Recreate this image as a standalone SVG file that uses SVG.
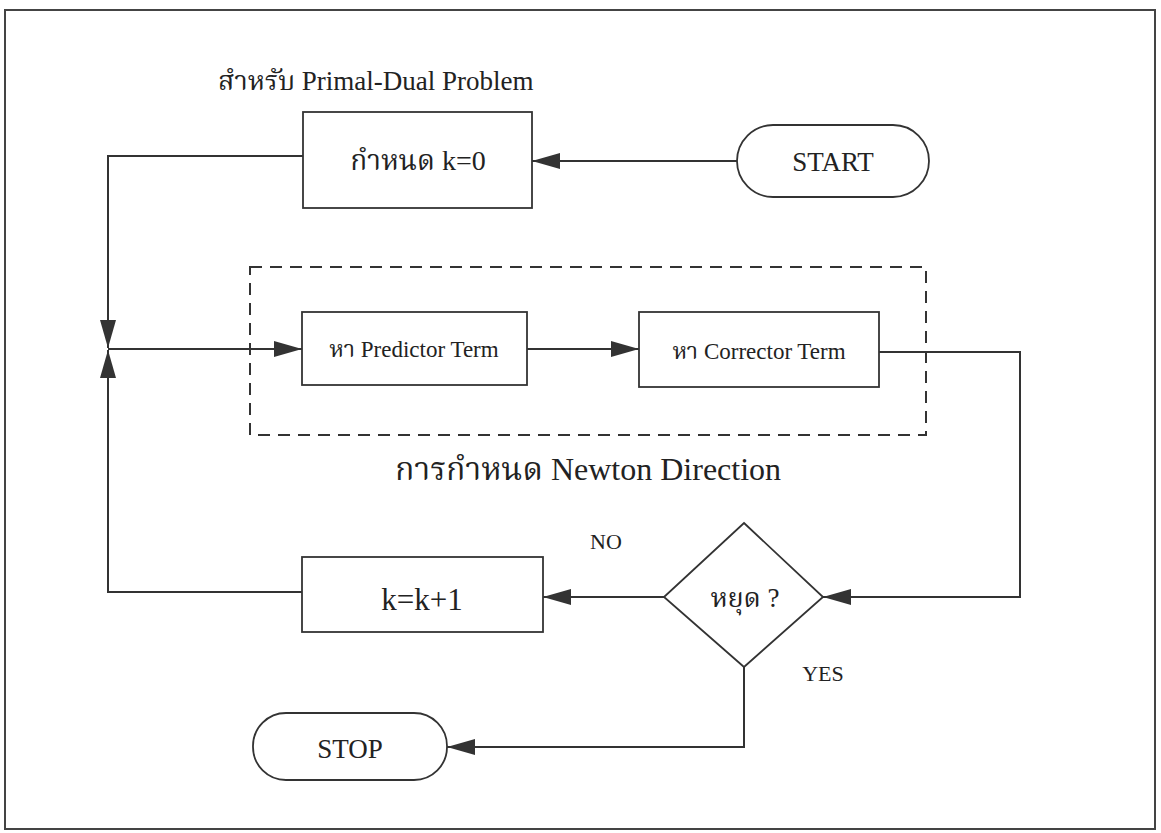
<svg xmlns="http://www.w3.org/2000/svg" width="1161" height="833" viewBox="0 0 1161 833">
<style>
.box{fill:#fff;stroke:#333;stroke-width:1.8}
.ln{fill:none;stroke:#333;stroke-width:2}
.t{font-family:"Liberation Serif","Noto Serif Thai","Noto Sans Thai",serif;fill:#222;text-anchor:middle}
</style>
<defs>
<marker id="ah" viewBox="0 0 28 16" refX="28" refY="8" markerWidth="28" markerHeight="16" markerUnits="userSpaceOnUse" orient="auto">
<path d="M0,0 L28,8 L0,16 Z" fill="#333"/>
</marker>
</defs>
<rect x="0" y="0" width="1161" height="833" fill="#fff"/>
<rect x="5" y="10" width="1150" height="819" fill="none" stroke="#444" stroke-width="2"/>
<text class="t" x="218" y="90" font-size="27" style="text-anchor:start">สำหรับ Primal-Dual Problem</text>
<g id="dashed-group">
<rect x="250" y="267" width="676" height="168" fill="none" stroke="#333" stroke-width="2" stroke-dasharray="12,8"/>
<text class="t" x="588" y="480" font-size="32">การกำหนด Newton Direction</text>
</g>
<g id="connectors">
<line class="ln" x1="737" y1="161" x2="532" y2="161" marker-end="url(#ah)"/>
<polyline class="ln" points="303,156 108,156 108,348" marker-end="url(#ah)"/>
<polyline class="ln" points="302,592 108,592 108,350" marker-end="url(#ah)"/>
<line class="ln" x1="108" y1="349" x2="302" y2="349" marker-end="url(#ah)"/>
<line class="ln" x1="527" y1="349" x2="639" y2="349" marker-end="url(#ah)"/>
<polyline class="ln" points="879,352 1020,352 1020,597 823,597" marker-end="url(#ah)"/>
<line class="ln" x1="664" y1="597" x2="543" y2="597" marker-end="url(#ah)"/>
<polyline class="ln" points="744,667 744,747 447,747" marker-end="url(#ah)"/>
<text class="t" x="606" y="549" font-size="22">NO</text>
<text class="t" x="823" y="681" font-size="22">YES</text>
</g>
<g id="init">
<rect class="box" x="303" y="112" width="229" height="96"/>
<text class="t" x="418" y="170" font-size="28">กำหนด k=0</text>
</g>
<g id="start">
<rect class="box" x="737" y="125" width="192" height="72" rx="36" ry="36"/>
<text class="t" x="833" y="171" font-size="27">START</text>
</g>
<g id="predictor">
<rect class="box" x="302" y="312" width="225" height="73"/>
<text class="t" x="414" y="357" font-size="23">หา Predictor Term</text>
</g>
<g id="corrector">
<rect class="box" x="639" y="312" width="240" height="75"/>
<text class="t" x="759" y="359" font-size="23">หา Corrector Term</text>
</g>
<g id="stop-q">
<polygon class="box" points="744,523 823,597 744,667 664,597"/>
<text class="t" x="745" y="607" font-size="27">หยุด ?</text>
</g>
<g id="incr">
<rect class="box" x="302" y="557" width="241" height="75"/>
<text class="t" x="422" y="610" font-size="31">k=k+1</text>
</g>
<g id="stop">
<rect class="box" x="253" y="713" width="194" height="67" rx="33" ry="33"/>
<text class="t" x="350" y="758" font-size="27">STOP</text>
</g>
</svg>
